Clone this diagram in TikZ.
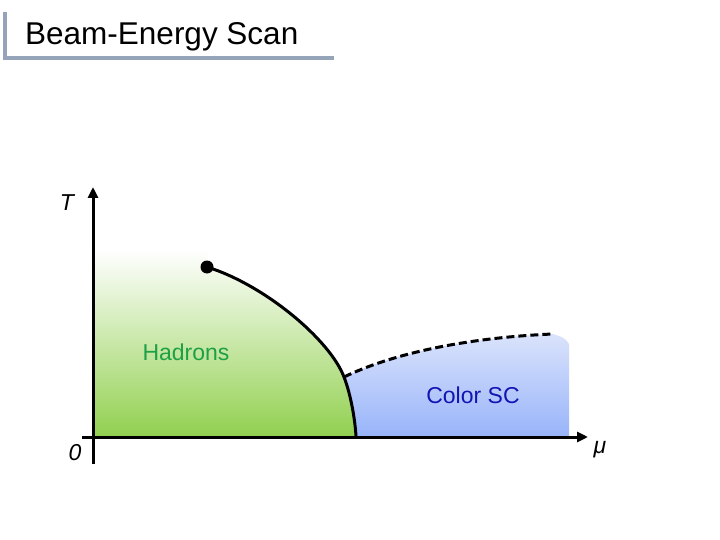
\documentclass[tikz,border=0pt]{standalone}
\usepackage{fontspec}
\setmainfont{Liberation Sans}
\usetikzlibrary{arrows.meta}
\definecolor{framegray}{RGB}{150,164,186}
\definecolor{hadgreen}{RGB}{146,208,80}
\definecolor{hadtext}{RGB}{30,160,70}
\definecolor{sctop}{RGB}{218,227,251}
\definecolor{scbot}{RGB}{152,180,250}
\definecolor{sctext}{RGB}{20,20,180}
\tikzset{
  axisline/.style={line width=3pt,-{Triangle[length=11pt,width=10pt]}},
  phaseline/.style={line width=3pt},
  dashline/.style={line width=3pt,dash pattern=on 8pt off 4pt},
  axlabel/.style={font=\fontsize{23}{25}\selectfont\itshape},
  region/.style={font=\fontsize{23}{25}\selectfont}
}
\begin{document}
\begin{tikzpicture}[x=1pt,y=-1pt]
\useasboundingbox (0,0) rectangle (720,540);
% title bracket
\draw[framegray,line width=3.5pt] (5,12) -- (5,58) -- (334,58);
\node[anchor=base west,font=\fontsize{31.5}{34}\selectfont,inner sep=0pt] (title) at (25,45) {Beam-Energy Scan};
% coordinates
\coordinate (cp) at (207,267);
\coordinate (j) at (344,377);
\coordinate (b) at (356,436);
\coordinate (de) at (553,334);
% green region
\shade[top color=white,middle color=hadgreen!50,bottom color=hadgreen]
  (95,250) -- (95,436) -- (b) .. controls (355,420) and (351,395) .. (j)
  .. controls (330,340) and (265,285) .. (cp) -- (207,250) -- cycle;
% blue region
\shade[top color=sctop,bottom color=scbot]
  (j) .. controls (400,350) and (480,337) .. (de)
  .. controls (560,336) and (566,338) .. (569,344) -- (569,436) -- (b)
  .. controls (355,420) and (351,395) .. (j) -- cycle;
% phase lines
\draw[phaseline] (cp) .. controls (265,285) and (330,340) .. (j)
  .. controls (351,395) and (355,420) .. (b);
\draw[dashline] (j) .. controls (400,350) and (480,337) .. (de);
\fill (cp) circle (6.5pt);
% axes
\coordinate (ybot) at (93,464);
\coordinate (ytop) at (93,187);
\coordinate (xl) at (82,437);
\coordinate (xr) at (588,437);
\draw[axisline] (ybot) -- (ytop);
\draw[axisline] (xl) -- (xr);
% labels
\node[axlabel] (T) at (67,203) {T};
\node[axlabel] (zero) at (75,453) {0};
\node[axlabel] (mu) at (600,450) {μ};
\node[region,text=hadtext] (had) at (186,352) {Hadrons};
\node[region,text=sctext] (sc) at (473,395) {Color SC};
\end{tikzpicture}
\end{document}
